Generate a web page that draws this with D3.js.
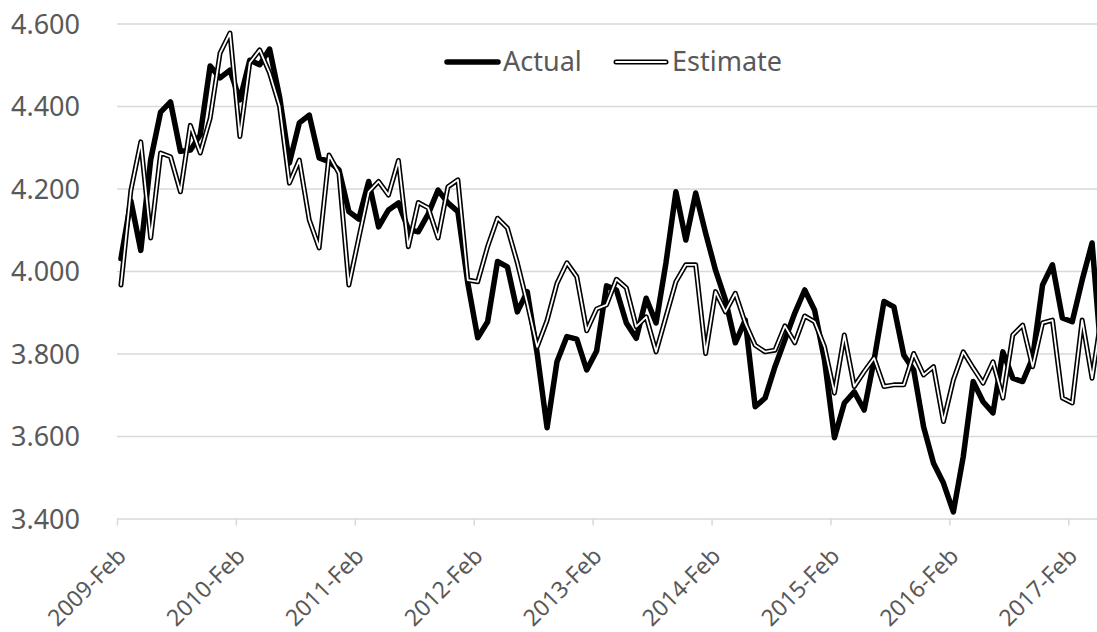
<!DOCTYPE html>
<html>
<head>
<meta charset="utf-8">
<script src="https://cdn.jsdelivr.net/npm/d3@7"></script>
<style>
  body { margin: 0; background: #fff; }
  svg { display: block; font-family: "Noto Sans", "Open Sans", sans-serif; }
</style>
</head>
<body>
<svg id="chart" width="1097" height="632"></svg>
<script>
// monthly values, first one is 2009-Feb
const actual = [
  4.030, 4.170, 4.050, 4.270, 4.385, 4.410, 4.290, 4.293, 4.330, 4.497, 4.468, 4.487,
  4.415, 4.511, 4.500, 4.538, 4.423, 4.262, 4.359, 4.378, 4.274, 4.265, 4.245, 4.144,
  4.126, 4.217, 4.107, 4.148, 4.165, 4.101, 4.095, 4.138, 4.196, 4.165, 4.144, 3.971,
  3.838, 3.877, 4.023, 4.010, 3.901, 3.950, 3.800, 3.620, 3.780, 3.841, 3.835, 3.760,
  3.806, 3.964, 3.954, 3.874, 3.837, 3.934, 3.874, 4.020, 4.192, 4.075, 4.189, 4.092,
  4.002, 3.930, 3.826, 3.881, 3.671, 3.692, 3.768, 3.833, 3.898, 3.954, 3.905, 3.784,
  3.596, 3.680, 3.707, 3.663, 3.784, 3.926, 3.913, 3.796, 3.760, 3.622, 3.534, 3.486,
  3.416, 3.550, 3.732, 3.683, 3.656, 3.804, 3.740, 3.732, 3.789, 3.966, 4.015, 3.886,
  3.877, 3.978, 4.068, 3.770
];
const estimate = [
  3.966, 4.195, 4.313, 4.080, 4.286, 4.277, 4.192, 4.353, 4.286, 4.370, 4.528, 4.577,
  4.326, 4.505, 4.536, 4.480, 4.400, 4.213, 4.269, 4.124, 4.056, 4.281, 4.237, 3.966,
  4.080, 4.192, 4.217, 4.184, 4.268, 4.059, 4.166, 4.153, 4.080, 4.204, 4.221, 3.978,
  3.974, 4.059, 4.128, 4.104, 4.020, 3.922, 3.816, 3.880, 3.970, 4.020, 3.986, 3.855,
  3.908, 3.918, 3.980, 3.959, 3.865, 3.889, 3.804, 3.889, 3.974, 4.015, 4.015, 3.800,
  3.950, 3.901, 3.946, 3.874, 3.820, 3.804, 3.808, 3.867, 3.826, 3.891, 3.877, 3.816,
  3.704, 3.845, 3.720, 3.756, 3.789, 3.720, 3.724, 3.724, 3.800, 3.748, 3.768, 3.635,
  3.736, 3.804, 3.765, 3.728, 3.780, 3.692, 3.845, 3.869, 3.768, 3.874, 3.881, 3.692,
  3.680, 3.881, 3.740, 3.900
];
const tickLabels = ["2009-Feb", "2010-Feb", "2011-Feb", "2012-Feb", "2013-Feb",
                    "2014-Feb", "2015-Feb", "2016-Feb", "2017-Feb"];
const yTicks = [3.4, 3.6, 3.8, 4.0, 4.2, 4.4, 4.6];

const left = 117, right = 1097;
const text_color = "#595959";
const grid_color = "#d9d9d9";
const point_offset = 0.4; // points sit a bit after the month tick

const svg = d3.select("#chart");

const x = d3.scaleLinear().domain([0, 96]).range([left, 1068.3]);
const y = d3.scaleLinear().domain([3.4, 4.6]).range([518.5, 23.5]);

// gridlines + y labels
const yAxis = svg.append("g")
    .attr("transform", `translate(${left},0)`)
    .call(d3.axisLeft(y).tickValues(yTicks).tickSize(-(right - left)).tickPadding(37)
        .tickFormat(d3.format(".3f")));
yAxis.select(".domain").remove();
yAxis.selectAll(".tick line").attr("stroke", grid_color).attr("stroke-width", 1.5);
yAxis.selectAll(".tick text")
    .attr("fill", text_color)
    .attr("font-size", 27)
    .attr("font-family", "Noto Sans")
    .attr("dy", "0.36em");

// x axis ticks and rotated labels
const xAxis = svg.append("g")
    .attr("transform", `translate(0,${y(3.4)})`)
    .call(d3.axisBottom(x).tickValues(tickLabels.map((d, i) => i * 12)).tickSize(7)
        .tickFormat((d, i) => tickLabels[i]));
xAxis.select(".domain").remove();
xAxis.selectAll(".tick line").attr("stroke", grid_color).attr("stroke-width", 1.5);
xAxis.selectAll(".tick text")
    .attr("fill", text_color)
    .attr("font-size", 23)
    .attr("font-family", "Noto Sans")
    .attr("text-anchor", "end")
    .attr("dy", null)
    .attr("y", 0)
    .attr("transform", "translate(10,39) rotate(-45)");

const line = d3.line()
    .x((d, i) => x(i + point_offset))
    .y(d => y(d));

// Actual: thick black
svg.append("path")
    .datum(actual)
    .attr("d", line)
    .attr("fill", "none")
    .attr("stroke", "#000")
    .attr("stroke-width", 5.5)
    .attr("stroke-linejoin", "round")
    .attr("stroke-linecap", "round");

// Estimate: black outline with white core
svg.append("path")
    .datum(estimate)
    .attr("d", line)
    .attr("fill", "none")
    .attr("stroke", "#000")
    .attr("stroke-width", 5)
    .attr("stroke-linejoin", "round")
    .attr("stroke-linecap", "round");
svg.append("path")
    .datum(estimate)
    .attr("d", line)
    .attr("fill", "none")
    .attr("stroke", "#fff")
    .attr("stroke-width", 1.8)
    .attr("stroke-linejoin", "round")
    .attr("stroke-linecap", "round");

// legend
const legend = svg.append("g").attr("font-size", 27).attr("fill", text_color);
legend.append("line")
    .attr("x1", 447).attr("x2", 498).attr("y1", 62).attr("y2", 62)
    .attr("stroke", "#000").attr("stroke-width", 5.5).attr("stroke-linecap", "round");
legend.append("text").attr("x", 503).attr("y", 71).text("Actual");
legend.append("line")
    .attr("x1", 616).attr("x2", 666).attr("y1", 62).attr("y2", 62)
    .attr("stroke", "#000").attr("stroke-width", 5).attr("stroke-linecap", "round");
legend.append("line")
    .attr("x1", 616).attr("x2", 666).attr("y1", 62).attr("y2", 62)
    .attr("stroke", "#fff").attr("stroke-width", 1.8).attr("stroke-linecap", "round");
legend.append("text").attr("x", 672).attr("y", 71).text("Estimate");
</script>
</body>
</html>
